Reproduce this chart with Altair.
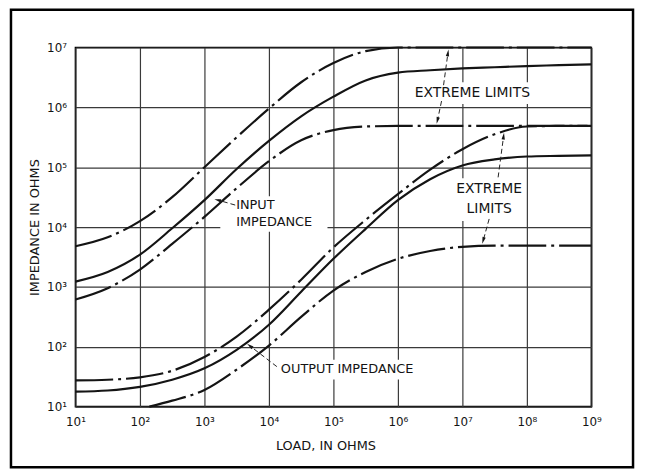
import altair as alt
import pandas as pd

# ---------------- data ----------------
# load resistance (ohms) sample points
load = [10, 31.6, 100, 316, 1000, 3160, 1e4, 31600, 1e5, 316000, 1e6,
        3.16e6, 1e7, 3.16e7, 1e8, 3.16e8, 1e9]

# input impedance (ohms)
input_upper = [4790, 6760, 12600, 31600, 1e5, 316000, 955000, 2.63e6, 5.5e6,
               8.7e6, 1e7, 1e7, 1e7, 1e7, 1e7, 1e7, 1e7]
input_typical = [1230, 1780, 3470, 9550, 28200, 93300, 275000, 708000, 1.51e6,
                 2.82e6, 3.8e6, 4.17e6, 4.47e6, 4.68e6, 4.9e6, 5.07e6, 5.25e6]
input_lower = [617, 955, 1950, 5250, 14800, 44700, 126000, 282000, 417000,
               479000, 490000, 490000, 490000, 490000, 490000, 490000, 490000]

# output impedance (ohms)
output_upper = [27.5, 28.2, 30.9, 39.8, 67.6, 148, 417, 1320, 4570, 13200,
                35500, 91200, 200000, 355000, 479000, 490000, 490000]
output_typical = [17.8, 18.6, 21.4, 28.2, 43.7, 89, 234, 832, 2950, 9330,
                  28200, 63100, 107000, 135000, 151000, 155000, 158000]
load_output_lower = [140, 316, 1000, 3160, 1e4, 31600, 1e5, 316000, 1e6,
                     3.16e6, 1e7, 3.16e7, 1e8, 3.16e8, 1e9]
output_lower = [10, 12.6, 19, 41.7, 105, 316, 871, 1780, 2950, 3980, 4680,
                4900, 4900, 4900, 4900]

tick_values_x = [1e1, 1e2, 1e3, 1e4, 1e5, 1e6, 1e7, 1e8, 1e9]
tick_values_y = [1e1, 1e2, 1e3, 1e4, 1e5, 1e6, 1e7]

series = [
    ("input_upper", "dashdot", load, input_upper),
    ("input_typical", "solid", load, input_typical),
    ("input_lower", "dashdot", load, input_lower),
    ("output_upper", "dashdot", load, output_upper),
    ("output_typical", "solid", load, output_typical),
    ("output_lower", "dashdot", load_output_lower, output_lower),
]
rows = []
for name, style, xs, ys in series:
    for i, (a, b) in enumerate(zip(xs, ys)):
        rows.append({"series": name, "style": style, "load": a, "imp": b, "order": i})
df = pd.DataFrame(rows)

# ---------------- annotations (positions in decades) ----------------
texts = pd.DataFrame({
    "label": ["EXTREME LIMITS", "EXTREME", "LIMITS", "INPUT", "IMPEDANCE", "OUTPUT IMPEDANCE"],
    "lx": [7.154, 7.415, 7.415, 3.492, 3.492, 4.185],
    "ly": [6.238, 4.632, 4.301, 4.368, 4.086, 1.636],
    "align": ["center", "center", "center", "left", "left", "left"],
})
texts["load"] = 10 ** texts["lx"]
texts["imp"] = 10 ** texts["ly"]

leaders = pd.DataFrame({
    "x1": [6.708, 6.677, 7.554, 7.415, 3.477, 4.123],
    "y1": [6.371, 6.106, 4.831, 4.136, 4.368, 1.669],
    "x2": [6.775, 6.615, 7.638, 7.325, 3.214, 3.711],
    "y2": [6.901, 5.790, 5.510, 3.785, 4.450, 2.010],
    "ang": [9, 194, 7, 196, 285, 307],
})
leaders["load"] = 10 ** leaders["x1"]
leaders["imp"] = 10 ** leaders["y1"]
leaders["load2"] = 10 ** leaders["x2"]
leaders["imp2"] = 10 ** leaders["y2"]

masks = pd.DataFrame({
    "x1": [6.062, 6.80, 3.246, 4.077],
    "x2": [8.262, 7.969, 4.908, 6.60],
    "y1": [6.421, 4.815, 4.517, 1.785],
    "y2": [6.056, 4.103, 3.921, 1.454],
})
masks["load"] = 10 ** masks["x1"]
masks["load2"] = 10 ** masks["x2"]
masks["imp"] = 10 ** masks["y1"]
masks["imp2"] = 10 ** masks["y2"]

FONT = "DejaVu Sans"
INK = "#141414"
sup = "['\u2070','\u00b9','\u00b2','\u00b3','\u2074','\u2075','\u2076','\u2077','\u2078','\u2079']"
label_expr = "'10' + " + sup + "[round(log(datum.value)/LN10)]"

xscale = alt.Scale(type="log", domain=[10, 1e9], nice=False)
yscale = alt.Scale(type="log", domain=[10, 1e7], nice=False)

x_axis = alt.Axis(values=tick_values_x, labelExpr=label_expr, grid=True,
                  gridColor="#3a3a3a", gridWidth=1.2, gridOpacity=1,
                  ticks=False, domain=False, labelPadding=10, labelFont=FONT,
                  labelFontSize=12, labelColor=INK, labelFlush=False,
                  title="LOAD, IN OHMS", titleFont=FONT, titleFontSize=13,
                  titleFontWeight="normal", titleColor=INK, titleX=252, titleY=39,
                  titleBaseline="middle")
y_axis = alt.Axis(values=tick_values_y, labelExpr=label_expr, grid=True,
                  gridColor="#3a3a3a", gridWidth=1.2, gridOpacity=1,
                  ticks=False, domain=False, labelPadding=9, labelFont=FONT,
                  labelFontSize=12, labelColor=INK, labelFlush=False,
                  title="IMPEDANCE IN OHMS", titleFont=FONT, titleFontSize=13,
                  titleFontWeight="normal", titleColor=INK, titleX=-41, titleY=181,
                  titleAngle=270, titleAlign="center", titleBaseline="middle")

X = alt.X("load:Q", scale=xscale, axis=x_axis)
Y = alt.Y("imp:Q", scale=yscale, axis=y_axis)

frame = alt.Chart(pd.DataFrame({"k": [0]})).mark_rect(
    fillOpacity=0, stroke="#000", strokeWidth=2.5
).encode(x=alt.value(-65), x2=alt.value(562), y=alt.value(-38), y2=alt.value(423))

mask_layer = alt.Chart(masks).mark_rect(color="white").encode(
    x=X, x2="load2:Q", y=Y, y2="imp2:Q")

solid = alt.Chart(df[df["style"] == "solid"]).mark_line(
    color=INK, strokeWidth=2.2, interpolate="monotone"
).encode(x=X, y=Y, detail="series:N", order="order:Q")

dashdot = alt.Chart(df[df["style"] == "dashdot"]).mark_line(
    color=INK, strokeWidth=2.2, interpolate="monotone", strokeDash=[38, 5, 3, 5]
).encode(x=X, y=Y, detail="series:N", order="order:Q")

leader_lines = alt.Chart(leaders).mark_rule(
    color="#222", strokeWidth=1, strokeDash=[5, 3]
).encode(x=X, y=Y, x2="load2:Q", y2="imp2:Q")

arrow_heads = alt.Chart(leaders).mark_point(
    shape="M0,-1L0.42,0.7L-0.42,0.7Z", filled=True, size=64, color=INK, opacity=1
).encode(x=alt.X("load2:Q", scale=xscale, axis=x_axis),
         y=alt.Y("imp2:Q", scale=yscale, axis=y_axis),
         angle=alt.Angle("ang:Q", scale=None))

text_center = alt.Chart(texts[texts["align"] == "center"]).mark_text(
    font=FONT, fontSize=14, color=INK, align="center", baseline="middle"
).encode(x=X, y=Y, text="label:N")
text_left = alt.Chart(texts[texts["align"] == "left"]).mark_text(
    font=FONT, fontSize=13, color=INK, align="left", baseline="middle"
).encode(x=X, y=Y, text="label:N")

chart = alt.layer(
    frame, mask_layer, solid, dashdot, leader_lines, arrow_heads, text_center, text_left
).properties(
    width=520, height=362,
    autosize=alt.AutoSizeParams(type="none"),
    padding={"left": 68, "top": 38, "right": 46, "bottom": 62},
    background="white",
).configure_view(stroke="#000", strokeWidth=1.6)

chart.save("out.html", embed_options={"renderer": "svg", "actions": False})
